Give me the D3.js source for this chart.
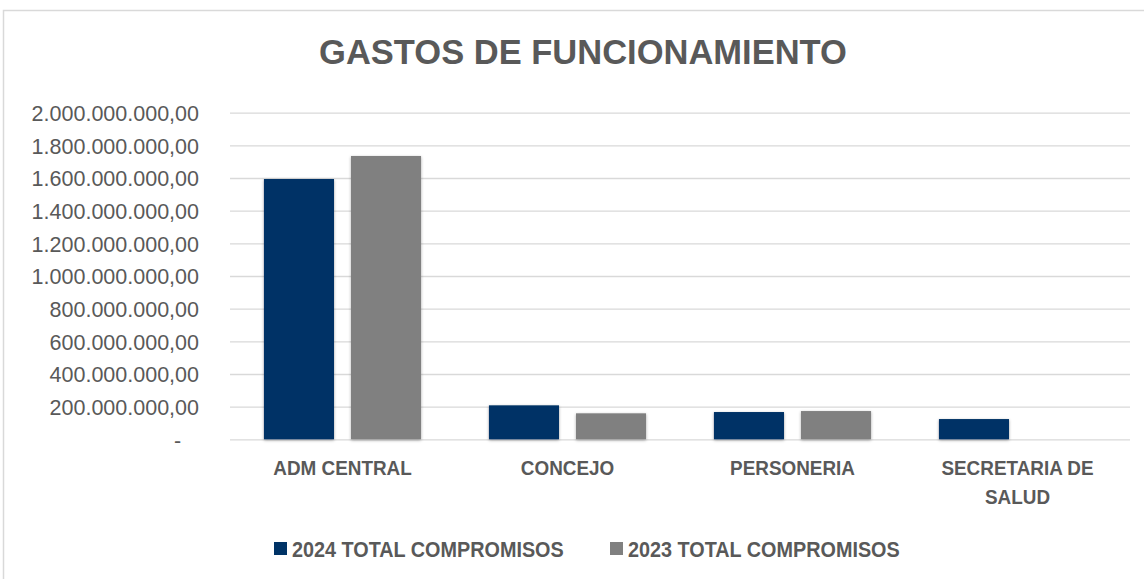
<!DOCTYPE html>
<html>
<head>
<meta charset="utf-8">
<script src="https://cdn.jsdelivr.net/npm/d3@7"></script>
<style>
  html, body { margin: 0; padding: 0; background: #fff; }
  text { font-family: "Liberation Sans", Arial, sans-serif; fill: #595959; }
</style>
</head>
<body>
<div id="chart"></div>
<script>
const categories = ['ADM CENTRAL', 'CONCEJO', 'PERSONERIA', 'SECRETARIA DE SALUD'];
const seriesNames = ['2024 TOTAL COMPROMISOS', '2023 TOTAL COMPROMISOS'];
const values2024 = [1594000000, 208000000, 167000000, 124000000];
const values2023 = [1735000000, 159000000, 173000000, 0];
const yTicks = [0, 200000000, 400000000, 600000000, 800000000, 1000000000,
  1200000000, 1400000000, 1600000000, 1800000000, 2000000000];
const colors = ['#003366', '#808080'];

const W = 1144, H = 579;
const margin = { top: 112.7, right: 14, bottom: 139.7, left: 230 };

const svg = d3.select('#chart').append('svg')
  .attr('width', W).attr('height', H);

// shadow for the bars
const defs = svg.append('defs');
const f = defs.append('filter').attr('id', 'shadow')
  .attr('x', '-20%').attr('y', '-20%').attr('width', '140%').attr('height', '140%');
f.append('feDropShadow').attr('dx', 0).attr('dy', 1).attr('stdDeviation', 1.5)
  .attr('flood-color', '#000').attr('flood-opacity', 0.35);

// chart area border
svg.append('rect')
  .attr('x', 3.5).attr('y', 10.5).attr('width', W + 10).attr('height', H + 10)
  .attr('fill', 'none').attr('stroke', '#d9d9d9').attr('stroke-width', 1.5);

const x0 = d3.scaleBand().domain(categories)
  .range([margin.left, W - margin.right]).padding(0);
const x1 = d3.scaleBand().domain(seriesNames)
  .range([0, x0.bandwidth()]).paddingInner(0.195).paddingOuter(0.39);
const y = d3.scaleLinear().domain([0, 2000000000])
  .range([H - margin.bottom, margin.top]);

const fmt = v => v === 0 ? '-\u00a0\u00a0\u00a0' :
  d3.format(',.2f')(v).replace(/,/g, 'X').replace('.', ',').replace(/X/g, '.');

// y axis (labels + gridlines)
const yAxis = svg.append('g')
  .attr('transform', `translate(${margin.left},0)`)
  .call(d3.axisLeft(y).tickValues(yTicks).tickFormat(fmt)
    .tickSize(-(W - margin.right - margin.left)).tickPadding(31));
yAxis.select('.domain').remove();
yAxis.selectAll('.tick line').attr('stroke', '#d9d9d9').attr('stroke-width', 1.3);
yAxis.selectAll('.tick text')
  .style('font-size', '21.5px').style('fill', '#595959')
  .attr('dy', '0.36em');

// bars
const rows = categories.map((c, i) => ({ c, vals: [values2024[i], values2023[i]] }));
const groups = svg.append('g').selectAll('g').data(rows).join('g')
  .attr('transform', d => `translate(${x0(d.c)},0)`);
groups.selectAll('rect')
  .data(d => d.vals.map((v, j) => ({ s: seriesNames[j], v, j })).filter(e => e.v > 0))
  .join('rect')
  .attr('x', e => x1(e.s))
  .attr('y', e => y(e.v))
  .attr('width', x1.bandwidth())
  .attr('height', e => y(0) - y(e.v))
  .attr('fill', e => colors[e.j])
  .attr('filter', 'url(#shadow)');

// x axis labels (narrowed to look like Arial Narrow)
const xAxis = svg.append('g')
  .attr('transform', `translate(0,${y(0)})`)
  .call(d3.axisBottom(x0).tickSize(0).tickPadding(0));
xAxis.select('.domain').remove();
xAxis.selectAll('.tick text').each(function(d) {
  const t = d3.select(this).text(null)
    .attr('y', 0).attr('dy', null)
    .attr('transform', 'scale(0.9,1)')
    .style('font-size', '21px').style('font-weight', 'bold')
    .style('fill', '#595959');
  const lines = d === 'SECRETARIA DE SALUD' ? ['SECRETARIA DE', 'SALUD'] : [d];
  lines.forEach((ln, k) => {
    t.append('tspan').attr('x', 0).attr('y', 36 + k * 29).text(ln);
  });
});

// title
svg.append('text')
  .attr('x', 583).attr('y', 64)
  .attr('text-anchor', 'middle')
  .style('font-size', '34.5px').style('font-weight', 'bold')
  .text('GASTOS DE FUNCIONAMIENTO');

// legend
const legendX = [274, 610];
const legend = svg.append('g').selectAll('g').data(seriesNames).join('g')
  .attr('transform', (d, i) => `translate(${legendX[i]},542)`);
legend.append('rect').attr('width', 13).attr('height', 13)
  .attr('fill', (d, i) => colors[i]);
legend.append('text')
  .attr('transform', 'translate(18,14.8) scale(0.88,1)')
  .style('font-size', '22.5px').style('font-weight', 'bold')
  .text(d => d);
</script>
</body>
</html>
